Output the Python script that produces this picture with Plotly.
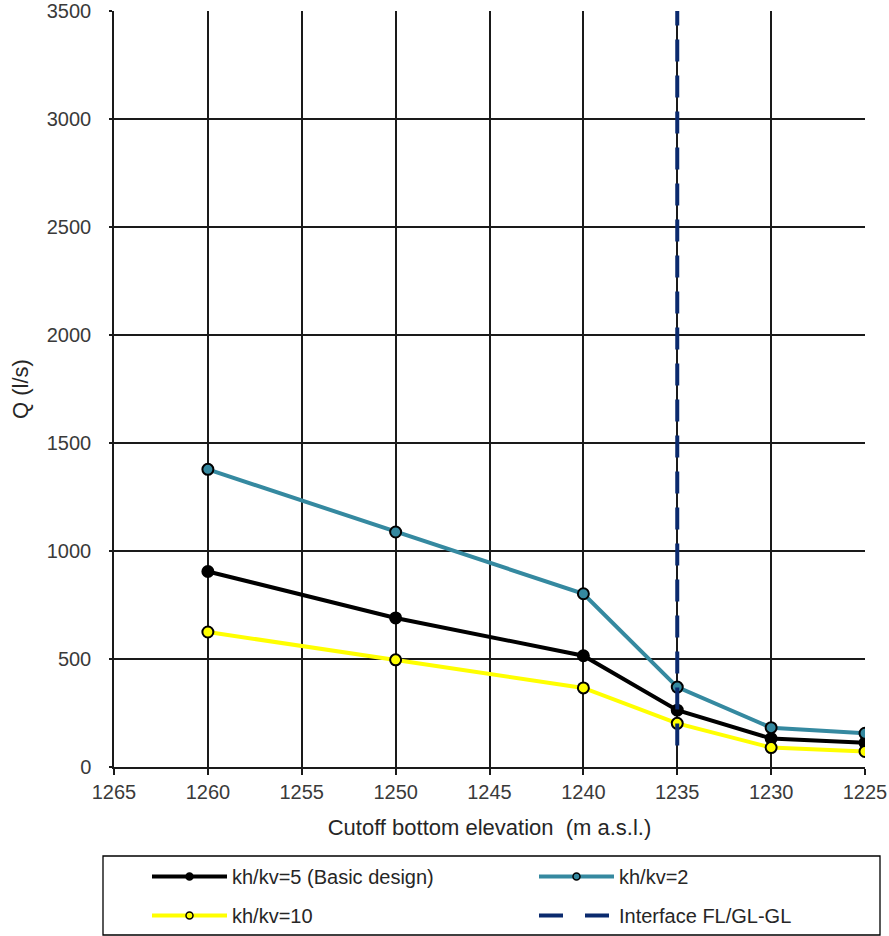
import plotly.graph_objects as go

# Cutoff bottom elevation (m a.s.l.)
elevation = [1260, 1250, 1240, 1235, 1230, 1225]

# Seepage discharge Q (l/s) for each anisotropy ratio
q_kh5 = [905, 690, 515, 263, 132, 112]
q_kh2 = [1378, 1088, 802, 370, 182, 156]
q_kh10 = [625, 496, 366, 202, 90, 72]

# Interface FL/GL-GL marker line
interface_x = [1235, 1235]
interface_y = [100, 3500]

FONT = "Liberation Sans, Arial, sans-serif"
TEAL = "#3589A0"
NAVY = "#0A2A6E"

# (label, values, colour, legend column)
series = [
    ("kh/kv=5 (Basic design)", q_kh5, "#000000", "legend"),
    ("kh/kv=2", q_kh2, TEAL, "legend2"),
    ("kh/kv=10", q_kh10, "#FFFF00", "legend"),
]

fig = go.Figure()

# data traces
for name, q, col, _ in series:
    fig.add_trace(go.Scatter(
        x=elevation, y=q, mode="lines+markers", name=name, showlegend=False,
        line=dict(color=col, width=4),
        marker=dict(size=11, color=col, line=dict(color="#000000", width=2)),
    ))
fig.add_trace(go.Scatter(
    x=interface_x, y=interface_y, mode="lines", name="Interface FL/GL-GL",
    showlegend=False, line=dict(color=NAVY, width=4, dash="22px,14px"),
))

# legend entries (smaller legend markers), split over two columns
for i, (name, q, col, leg) in enumerate(series):
    fig.add_trace(go.Scatter(
        x=[None], y=[None], mode="lines+markers", name=name,
        legend=leg, legendgroup=f"g{i}",
        line=dict(color=col, width=4),
        marker=dict(size=7, color=col, line=dict(color="#000000", width=1.5)),
    ))
fig.add_trace(go.Scatter(
    x=[None], y=[None], mode="lines", name="Interface FL/GL-GL",
    legend="legend2", legendgroup="g3",
    line=dict(color=NAVY, width=4, dash="24px,22px"),
))

axis_font = dict(family=FONT, size=20, color="#3a3a3a")
title_font = dict(family=FONT, size=22, color="#262626")
legend_font = dict(family=FONT, size=20, color="#262626")

L, R, T, B = 114, 24, 11, 169
W, H = 889, 936
pw, ph = W - L - R, H - T - B


def px_x(p):
    return (p - L) / pw


def px_y(p):
    return (H - B - p) / ph


legend_common = dict(
    orientation="v",
    xref="container", yref="container",
    xanchor="left", yanchor="top",
    y=1 - 857 / H,
    borderwidth=0, bgcolor="rgba(0,0,0,0)",
    itemwidth=75,
    tracegroupgap=10,
    font=legend_font,
)

fig.update_layout(
    width=W, height=H,
    margin=dict(l=L, r=R, t=T, b=B, autoexpand=False),
    paper_bgcolor="white", plot_bgcolor="white",
    font=dict(family=FONT, color="#262626"),
    showlegend=True,
    legend=dict(x=147 / W, **legend_common),
    legend2=dict(x=534 / W, **legend_common),
    shapes=[dict(
        type="rect", xref="paper", yref="paper",
        x0=px_x(103), x1=px_x(880), y0=px_y(856), y1=px_y(935),
        line=dict(color="#000000", width=1.3), fillcolor="rgba(0,0,0,0)",
        layer="above",
    )],
    annotations=[dict(
        text="Q (l/s)", textangle=-90, showarrow=False,
        xref="paper", yref="paper", x=px_x(20), y=0.5,
        xanchor="center", yanchor="middle", font=title_font,
    )],
    xaxis=dict(
        range=[1265, 1225], dtick=5, tick0=1225,
        automargin=False,
        showgrid=True, gridcolor="#1a1a1a", gridwidth=1.5,
        showline=True, linecolor="#1a1a1a", linewidth=1.5,
        ticks="outside", ticklen=6, tickcolor="#1a1a1a", tickwidth=1.5,
        tickfont=axis_font,
        zeroline=False,
        title=dict(text="Cutoff bottom elevation  (m a.s.l.)", font=title_font, standoff=18),
    ),
    yaxis=dict(
        range=[0, 3500], dtick=500,
        automargin=False,
        showgrid=True, gridcolor="#1a1a1a", gridwidth=1.5,
        showline=True, linecolor="#1a1a1a", linewidth=1.5,
        ticks="outside", ticklen=3, tickcolor="#1a1a1a", tickwidth=1.5,
        ticklabelstandoff=14,
        tickfont=axis_font,
        zeroline=False,
    ),
)

fig.write_html("out.html")
